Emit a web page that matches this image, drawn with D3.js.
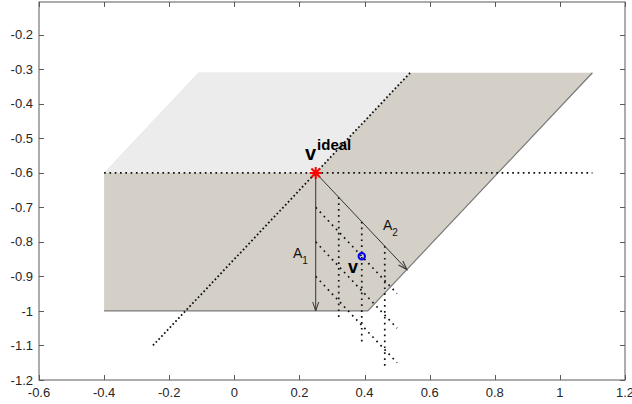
<!DOCTYPE html>
<html>
<head>
<meta charset="utf-8">
<script src="https://cdn.jsdelivr.net/npm/d3@7"></script>
<style>
  body { margin: 0; background: #fff; }
  text { font-family: "Liberation Sans", Arial, sans-serif; }
</style>
</head>
<body>
<script>
// axis ticks
var xTicks = [-0.6, -0.4, -0.2, 0, 0.2, 0.4, 0.6, 0.8, 1, 1.2];
var yTicks = [-1.2, -1.1, -1, -0.9, -0.8, -0.7, -0.6, -0.5, -0.4, -0.3, -0.2];
var xLim = [-0.6, 1.2];
var yLim = [-1.2, -0.105];

// shaded regions
var darkRegion = [[-0.4, -0.6], [-0.4, -1], [0.41, -1], [1.1, -0.31], [-0.11, -0.31]];
var lightRegion = [[-0.4, -0.6], [-0.11, -0.31], [0.54, -0.31], [0.25, -0.6]];
var darkEdges = [[[-0.4, -1], [0.41, -1], [1.1, -0.31]]];

// dotted guide lines through v ideal
var horizGuide = [[-0.4, -0.6], [1.1, -0.6]];
var diagGuide = [[-0.25, -1.1], [0.54, -0.31]];

// points
var vIdeal = [0.25, -0.6];
var vPoint = [0.3914, -0.8414];

// arrows A1 and A2
var arrowA1 = [[0.25, -0.6], [0.25, -1]];
var arrowA2 = [[0.25, -0.6], [0.53, -0.88]];

// grid lines starting at the marks on A1 (parallel to A2) and on A2 (parallel to A1)
var a1Grid = [
  [[0.25, -0.7], [0.5, -0.95]],
  [[0.25, -0.8], [0.5, -1.05]],
  [[0.25, -0.9], [0.5, -1.15]]
];
var a2Grid = [
  [[0.3207, -0.6707], [0.3207, -1.0207]],
  [[0.3914, -0.7414], [0.3914, -1.0914]],
  [[0.4621, -0.8121], [0.4621, -1.1621]]
];

var width = 632, height = 404;
var mLeft = 39, mRight = 625, mTop = 2, mBottom = 380;

var svg = d3.select('body').append('svg')
  .attr('width', width)
  .attr('height', height);

var x = d3.scaleLinear().domain(xLim).range([mLeft, mRight]);
var y = d3.scaleLinear().domain(yLim).range([mBottom, mTop]);

var line = d3.line()
  .x(function(d){ return x(d[0]); })
  .y(function(d){ return y(d[1]); });

var defs = svg.append('defs');
defs.append('marker')
  .attr('id', 'head')
  .attr('viewBox', '-10 -5 12 10')
  .attr('refX', 0).attr('refY', 0)
  .attr('markerWidth', 12).attr('markerHeight', 10)
  .attr('markerUnits', 'userSpaceOnUse')
  .attr('orient', 'auto')
  .append('path')
  .attr('d', 'M-9,-3 L0,0 L-9,3')
  .attr('fill', 'none')
  .attr('stroke', '#333')
  .attr('stroke-width', 1);

// regions
svg.append('path')
  .attr('d', line(darkRegion) + 'Z')
  .attr('fill', '#d4d0c8');
svg.append('path')
  .attr('d', line(lightRegion) + 'Z')
  .attr('fill', '#ececec');
svg.selectAll('.edge').data(darkEdges).enter().append('path')
  .attr('class', 'edge')
  .attr('d', line)
  .attr('fill', 'none')
  .attr('stroke', '#7a7a7a')
  .attr('stroke-width', 1.2);

// dotted guides
svg.append('path')
  .attr('d', line(horizGuide))
  .attr('fill', 'none')
  .attr('stroke', '#111')
  .attr('stroke-width', 1.8)
  .attr('stroke-dasharray', '1.7,3.6');
svg.append('path')
  .attr('d', line(diagGuide))
  .attr('fill', 'none')
  .attr('stroke', '#111')
  .attr('stroke-width', 1.8)
  .attr('stroke-dasharray', '1.7,2.4');

svg.selectAll('.grid').data(a1Grid.concat(a2Grid)).enter().append('path')
  .attr('class', 'grid')
  .attr('d', line)
  .attr('fill', 'none')
  .attr('stroke', '#111')
  .attr('stroke-width', 1.7)
  .attr('stroke-dasharray', '1.7,4.2');

// arrows
svg.selectAll('.arrow').data([arrowA1, arrowA2]).enter().append('path')
  .attr('class', 'arrow')
  .attr('d', line)
  .attr('fill', 'none')
  .attr('stroke', '#333')
  .attr('stroke-width', 1)
  .attr('marker-end', 'url(#head)');

// v ideal asterisk
var cx = x(vIdeal[0]), cy = y(vIdeal[1]), s = 6, t = 4.3;
svg.append('path')
  .attr('d', 'M' + (cx - s) + ',' + cy + 'L' + (cx + s) + ',' + cy +
             'M' + cx + ',' + (cy - s) + 'L' + cx + ',' + (cy + s) +
             'M' + (cx - t) + ',' + (cy - t) + 'L' + (cx + t) + ',' + (cy + t) +
             'M' + (cx - t) + ',' + (cy + t) + 'L' + (cx + t) + ',' + (cy - t))
  .attr('stroke', '#ff0000')
  .attr('stroke-width', 2)
  .attr('fill', 'none');

// v circle
svg.append('circle')
  .attr('cx', x(vPoint[0]))
  .attr('cy', y(vPoint[1]))
  .attr('r', 3.2)
  .attr('fill', 'none')
  .attr('stroke', '#0000ff')
  .attr('stroke-width', 2);

// labels
var vi = svg.append('text')
  .attr('x', x(0.217)).attr('y', y(-0.563))
  .attr('font-weight', 'bold').attr('font-size', 20).attr('fill', '#000');
vi.append('tspan').text('v');
vi.append('tspan').attr('dy', -10).attr('font-size', 15).attr('dx', 1).text('ideal');

svg.append('text')
  .attr('x', x(0.349)).attr('y', y(-0.89))
  .attr('font-weight', 'bold').attr('font-size', 18).attr('fill', '#000')
  .text('v');

var a1 = svg.append('text')
  .attr('x', x(0.18)).attr('y', y(-0.8466))
  .attr('font-size', 14).attr('fill', '#111');
a1.append('tspan').text('A');
a1.append('tspan').attr('dy', 6).attr('font-size', 10).text('1');

var a2 = svg.append('text')
  .attr('x', x(0.4565)).attr('y', y(-0.7655))
  .attr('font-size', 14).attr('fill', '#111');
a2.append('tspan').text('A');
a2.append('tspan').attr('dy', 6).attr('font-size', 10).text('2');

// axes box and ticks
var axisColor = '#5a5a5a';
svg.append('rect')
  .attr('x', mLeft).attr('y', mTop)
  .attr('width', mRight - mLeft).attr('height', mBottom - mTop)
  .attr('fill', 'none')
  .attr('stroke', axisColor)
  .attr('stroke-width', 1);

var tl = 5;
svg.selectAll('.xt').data(xTicks).enter().append('path')
  .attr('d', function(d){
    var px = Math.round(x(d)) + 0.5;
    return 'M' + px + ',' + mBottom + 'v' + (-tl) + 'M' + px + ',' + mTop + 'v' + tl;
  })
  .attr('stroke', axisColor);
svg.selectAll('.yt').data(yTicks).enter().append('path')
  .attr('d', function(d){
    var py = Math.round(y(d)) + 0.5;
    return 'M' + mLeft + ',' + py + 'h' + tl + 'M' + mRight + ',' + py + 'h' + (-tl);
  })
  .attr('stroke', axisColor);

svg.selectAll('.xl').data(xTicks).enter().append('text')
  .attr('x', function(d){ return x(d); })
  .attr('y', 397)
  .attr('text-anchor', 'middle')
  .attr('font-size', 13)
  .attr('fill', '#262626')
  .text(function(d){ return String(d); });
svg.selectAll('.yl').data(yTicks).enter().append('text')
  .attr('x', mLeft - 6)
  .attr('y', function(d){ return y(d); })
  .attr('dy', '0.35em')
  .attr('text-anchor', 'end')
  .attr('font-size', 13)
  .attr('fill', '#262626')
  .text(function(d){ return String(d); });
</script>
</body>
</html>
